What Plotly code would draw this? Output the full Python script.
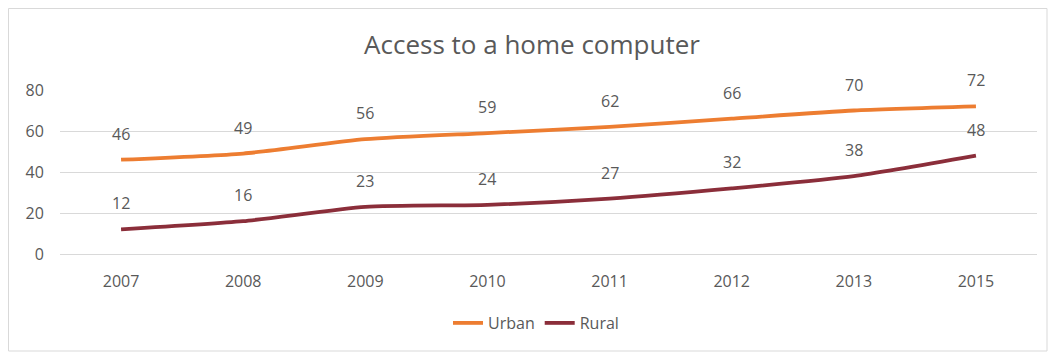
import plotly.graph_objects as go

years = ["2007", "2008", "2009", "2010", "2011", "2012", "2013", "2015"]
urban = [46, 49, 56, 59, 62, 66, 70, 72]
rural = [12, 16, 23, 24, 27, 32, 38, 48]

URBAN_C = "#ED7D31"
RURAL_C = "#8B2E3A"
TXT = "#595959"
FONT = "Open Sans"

# page body has an 8px margin; figure coordinates = page coordinates - 8
W, H = 1048, 346
L, R, T, B = 52, 19, 82, 100
pw, ph = W - L - R, H - T - B


def px(xp):
    return (xp - 8 - L) / pw


def py(yp):
    return (H - B - (yp - 8)) / ph


fig = go.Figure()
fig.add_trace(go.Scatter(x=years, y=urban, name="Urban", mode="lines",
                         line=dict(color=URBAN_C, width=3.8, shape="spline", smoothing=0.6)))
fig.add_trace(go.Scatter(x=years, y=rural, name="Rural", mode="lines",
                         line=dict(color=RURAL_C, width=3.8, shape="spline", smoothing=0.6)))

for series in (urban, rural):
    for i, v in enumerate(series):
        fig.add_annotation(x=i, y=v, xref="x", yref="y", text=str(v), showarrow=False, yshift=26,
                           font=dict(size=16, color=TXT, family=FONT))

fig.add_shape(type="rect", xref="paper", yref="paper",
              x0=(0.5 - L) / pw, x1=px(1047), y0=py(351), y1=(H - B - 0.5) / ph,
              line=dict(color="#D9D9D9", width=1), fillcolor="rgba(0,0,0,0)", layer="below")

fig.update_layout(
    width=W, height=H,
    margin=dict(l=L, r=R, t=T, b=B),
    paper_bgcolor="white", plot_bgcolor="white",
    title=dict(text="Access to a home computer", x=0.5, xanchor="center",
               y=1 - (45 - 8) / H, yanchor="middle",
               font=dict(size=26, color=TXT, family=FONT)),
    font=dict(family=FONT, color=TXT, size=16),
    xaxis=dict(type="category", range=[-0.5, len(years) - 0.5], showgrid=False, zeroline=False,
               showline=False, tickfont=dict(size=16, color=TXT), ticks="outside", ticklen=13,
               tickcolor="rgba(0,0,0,0)"),
    yaxis=dict(range=[0, 80], dtick=20, showgrid=True, gridcolor="#D9D9D9", gridwidth=1,
               zeroline=True, zerolinecolor="#D9D9D9", zerolinewidth=1, showline=False,
               tickfont=dict(size=16, color=TXT),
               ticks="outside", ticklen=12, tickcolor="rgba(0,0,0,0)"),
    legend=dict(orientation="h", x=px(536), xanchor="center", y=py(323), yanchor="middle",
                font=dict(size=16, color=TXT), tracegroupgap=0),
    showlegend=True,
)

fig.write_html("out.html")
